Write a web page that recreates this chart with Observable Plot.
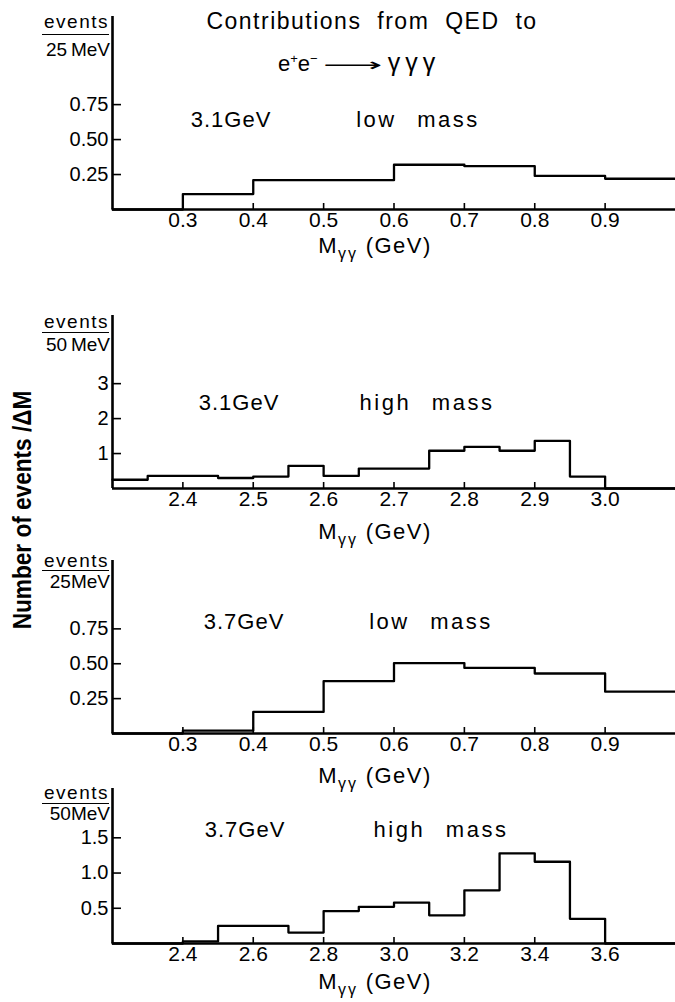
<!DOCTYPE html>
<html>
<head>
<meta charset="utf-8">
<script src="https://cdn.jsdelivr.net/npm/d3@7"></script>
<script src="https://cdn.jsdelivr.net/npm/@observablehq/plot@0.6"></script>
<style>
  html, body { margin: 0; padding: 0; background: #fff; }
  #page { position: relative; width: 675px; height: 1002px; overflow: hidden;
          font-family: "Liberation Sans", Arial, sans-serif; color: #000; }
  .t { position: absolute; white-space: nowrap; line-height: 1; transform: translate(-50%, -50%); }
  .r { position: absolute; white-space: nowrap; line-height: 1; transform: translate(-100%, -50%); }
  .frac { position: absolute; height: 0; border-top: 1.5px solid #000; }
  .panel { position: absolute; left: 0; }
  .sub { font-size: 16px; position: relative; top: 6px; letter-spacing: 2px; }
  .sup { font-size: 13px; position: relative; top: -8px; }
</style>
</head>
<body>
<div id="page"></div>
<script>
// Bin edges (GeV) and contents (events per bin width) of the four QED spectra
const lowEdges   = [0.2, 0.3, 0.4, 0.5, 0.6, 0.7, 0.8, 0.9, 1.0];
const low31      = [0, 0.11, 0.21, 0.21, 0.32, 0.31, 0.24, 0.22];
const low37      = [0, 0.02, 0.155, 0.375, 0.505, 0.47, 0.43, 0.30];

const high31Edges = [2.30, 2.35, 2.40, 2.45, 2.50, 2.55, 2.60, 2.65, 2.70,
                     2.75, 2.80, 2.85, 2.90, 2.95, 3.00, 3.05, 3.10];
const high31      = [0.25, 0.36, 0.36, 0.30, 0.34, 0.65, 0.36, 0.57,
                     0.57, 1.08, 1.19, 1.08, 1.36, 0.34, 0, 0];

const high37Edges = [2.2, 2.3, 2.4, 2.5, 2.6, 2.7, 2.8, 2.9, 3.0,
                     3.1, 3.2, 3.3, 3.4, 3.5, 3.6, 3.7, 3.8];
const high37      = [0, 0, 0.03, 0.25, 0.25, 0.155, 0.46, 0.52,
                     0.58, 0.40, 0.755, 1.28, 1.16, 0.35, 0, 0];

// Tick values
const lowTicksX    = [0.3, 0.4, 0.5, 0.6, 0.7, 0.8, 0.9];
const lowTicksY    = [0.25, 0.50, 0.75];
const high31TicksX = [2.4, 2.5, 2.6, 2.7, 2.8, 2.9, 3.0];
const high31TicksY = [1, 2, 3];
const high37TicksX = [2.4, 2.6, 2.8, 3.0, 3.2, 3.4, 3.6];
const high37TicksY = [0.5, 1.0, 1.5];

const page = document.getElementById("page");
const W = 675, ML = 112, MB = 34;

function addText(cls, html, x, y, style = "") {
  const d = document.createElement("div");
  d.className = cls;
  d.innerHTML = html;
  d.style.cssText = `left:${x}px;top:${y}px;${style}`;
  page.appendChild(d);
  return d;
}

function histogram({top, baseline, yMax, xDomain, edges, values, ticksX, ticksY, fmtX, fmtY}) {
  const frameH = baseline - top;
  const steps = edges.map((e, i) => ({mass: e, n: values[Math.min(i, values.length - 1)]}));
  const chart = Plot.plot({
    width: W,
    height: frameH + MB,
    marginLeft: ML, marginRight: 0, marginTop: 0, marginBottom: MB,
    x: {domain: xDomain},
    y: {domain: [0, yMax]},
    style: {fontFamily: '"Liberation Sans", Arial, sans-serif', fontSize: "21px",
            color: "#000", background: "transparent", overflow: "visible"},
    marks: [
      Plot.axisX(ticksX, {tickSize: 0, tickPadding: 3, tickFormat: d3.format(fmtX), label: null, fontSize: 21}),
      Plot.axisY(ticksY, {tickSize: 0, tickPadding: 4, tickFormat: d3.format(fmtY), label: null, fontSize: 20}),
      Plot.tickX(ticksX, {x: d => d, insetTop: frameH - 6, strokeWidth: 1.6}),
      Plot.tickY(ticksY, {y: d => d, insetRight: (W - ML) - 9, strokeWidth: 1.6}),
      Plot.ruleX([xDomain[0]], {strokeWidth: 2.6}),
      Plot.ruleY([0], {strokeWidth: 2.6}),
      Plot.line(steps, {x: "mass", y: "n", curve: "step-after", strokeWidth: 2.3})
    ]
  });
  chart.classList.add("panel");
  chart.style.top = top + "px";
  page.appendChild(chart);
}

histogram({top: 16, baseline: 209, yMax: 1.38, xDomain: [0.2, 1.0],
           edges: lowEdges, values: low31, ticksX: lowTicksX, ticksY: lowTicksY, fmtX: ".1f", fmtY: ".2f"});
histogram({top: 315, baseline: 488, yMax: 4.95, xDomain: [2.3, 3.1],
           edges: high31Edges, values: high31, ticksX: high31TicksX, ticksY: high31TicksY, fmtX: ".1f", fmtY: "d"});
histogram({top: 560, baseline: 733, yMax: 1.24, xDomain: [0.2, 1.0],
           edges: lowEdges, values: low37, ticksX: lowTicksX, ticksY: lowTicksY, fmtX: ".1f", fmtY: ".2f"});
histogram({top: 788, baseline: 943, yMax: 2.2, xDomain: [2.2, 3.8],
           edges: high37Edges, values: high37, ticksX: high37TicksX, ticksY: high37TicksY, fmtX: ".1f", fmtY: ".1f"});

// Title
addText("t", "Contributions from QED to", 372, 20.5, "font-size:23px;letter-spacing:1.5px;word-spacing:8px;");
addText("t", 'e<span class="sup">+</span>e<span class="sup">\u2212</span> ' +
             '<span style="display:inline-block;transform:scaleX(2.3);margin:0 16px;font-family:\'DejaVu Sans\';font-size:18px;">\u27F6</span> ' +
             '<span style="letter-spacing:5px;font-size:25px;">γγγ</span>', 359, 62, "font-size:22px;");

// Panel labels
const energyStyle = "font-size:22px;letter-spacing:1px;";
const kindStyle = "font-size:22px;letter-spacing:2.5px;word-spacing:12px;";
addText("t", "3.1GeV", 231, 120, energyStyle);
addText("t", "low mass", 418, 120, kindStyle);
addText("t", "3.1GeV", 239, 403, energyStyle);
addText("t", "high mass", 427, 403, kindStyle);
addText("t", "3.7GeV", 244, 622, energyStyle);
addText("t", "low mass", 431, 622, kindStyle);
addText("t", "3.7GeV", 245, 830, energyStyle);
addText("t", "high mass", 441, 830, kindStyle);

// Bin-width units beside each y axis
const unitStyle = "font-size:19px;letter-spacing:1.5px;";
function units(label, yEvents, yLine, yWidth) {
  addText("r", "events", 109, yEvents, unitStyle);
  const line = document.createElement("div");
  line.className = "frac";
  line.style.cssText = `left:42px;width:67px;top:${yLine}px;`;
  page.appendChild(line);
  addText("r", label, 110, yWidth, "font-size:19px;");
}
units("25\u2009MeV", 21, 34, 48.5);
units("50\u2009MeV", 320.5, 332, 344);
units("25MeV", 559.5, 570, 581);
units("50MeV", 792, 803, 813);

// Mass axis titles
const massLabel = 'M<span class="sub">γγ</span> (GeV)';
const massStyle = "font-size:22px;letter-spacing:1.5px;";
addText("t", massLabel, 375, 246, massStyle);
addText("t", massLabel, 375, 532, massStyle);
addText("t", massLabel, 375, 776, massStyle);
addText("t", massLabel, 375, 982, massStyle);

// Common y title, read bottom to top
addText("t", "Number of events /ΔM", 22, 510,
        "font-weight:bold;font-size:26px;transform:translate(-50%,-50%) rotate(-90deg) scaleX(0.87);");
</script>
</body>
</html>
